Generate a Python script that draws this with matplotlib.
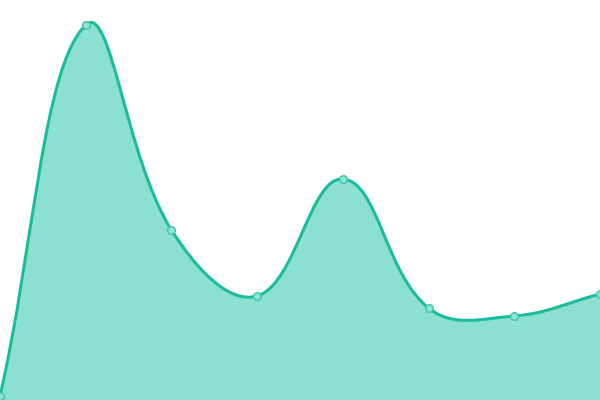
import numpy as np
import matplotlib
matplotlib.use("Agg")
import matplotlib.pyplot as plt
from matplotlib.path import Path
from matplotlib.patches import PathPatch

# valores (escala 0-400)
labels = ["1", "2", "3", "4", "5", "6", "7", "8"]
values = [4, 375, 170, 104, 221, 92, 84, 106]

LINE = "#1abc9c"
FILL = "#8be0cf"
TENSION = 0.4


def control_points(pts, t):
    # curva cardinal al estilo chart.js
    cps = []
    n = len(pts)
    for i in range(n):
        cur = pts[i]
        prev = pts[i - 1] if i > 0 else cur
        nxt = pts[i + 1] if i < n - 1 else cur
        d01 = np.hypot(*(cur - prev))
        d12 = np.hypot(*(nxt - cur))
        tot = d01 + d12
        s01 = d01 / tot if tot else 0
        s12 = d12 / tot if tot else 0
        fa = t * s01
        fb = t * s12
        cps.append((cur - fa * (nxt - prev), cur + fb * (nxt - prev)))
    return cps


fig = plt.figure(figsize=(6, 4), dpi=100)
ax = fig.add_axes([0, 0, 1, 1])
x = np.arange(len(values))
ax.set_xlim(0, len(values) - 1)
ax.set_ylim(0, 400)
ax.axis("off")

# spline en coordenadas de pantalla
disp = ax.transData.transform(np.column_stack([x, values]))
cps = control_points(disp, TENSION)
verts = [disp[0]]
codes = [Path.MOVETO]
for i in range(len(disp) - 1):
    verts += [cps[i][1], cps[i + 1][0], disp[i + 1]]
    codes += [Path.CURVE4] * 3
inv = ax.transData.inverted()
curve = inv.transform(np.array(verts))

line_path = Path(curve, codes)
fill_verts = list(curve) + [(x[-1], 0), (x[0], 0), tuple(curve[0])]
fill_codes = codes + [Path.LINETO, Path.LINETO, Path.CLOSEPOLY]
ax.add_patch(PathPatch(Path(fill_verts, fill_codes), facecolor=FILL,
                       edgecolor="none", zorder=1))
ax.add_patch(PathPatch(line_path, facecolor="none", edgecolor=LINE,
                       lw=2.2, zorder=2, capstyle="round", joinstyle="round"))
ax.plot(x, values, "o", ms=5.5, mfc="#8fe3d2", mec="#3cc6a9", mew=1,
        zorder=3, clip_on=False)

fig.savefig("out.png", dpi=100)
